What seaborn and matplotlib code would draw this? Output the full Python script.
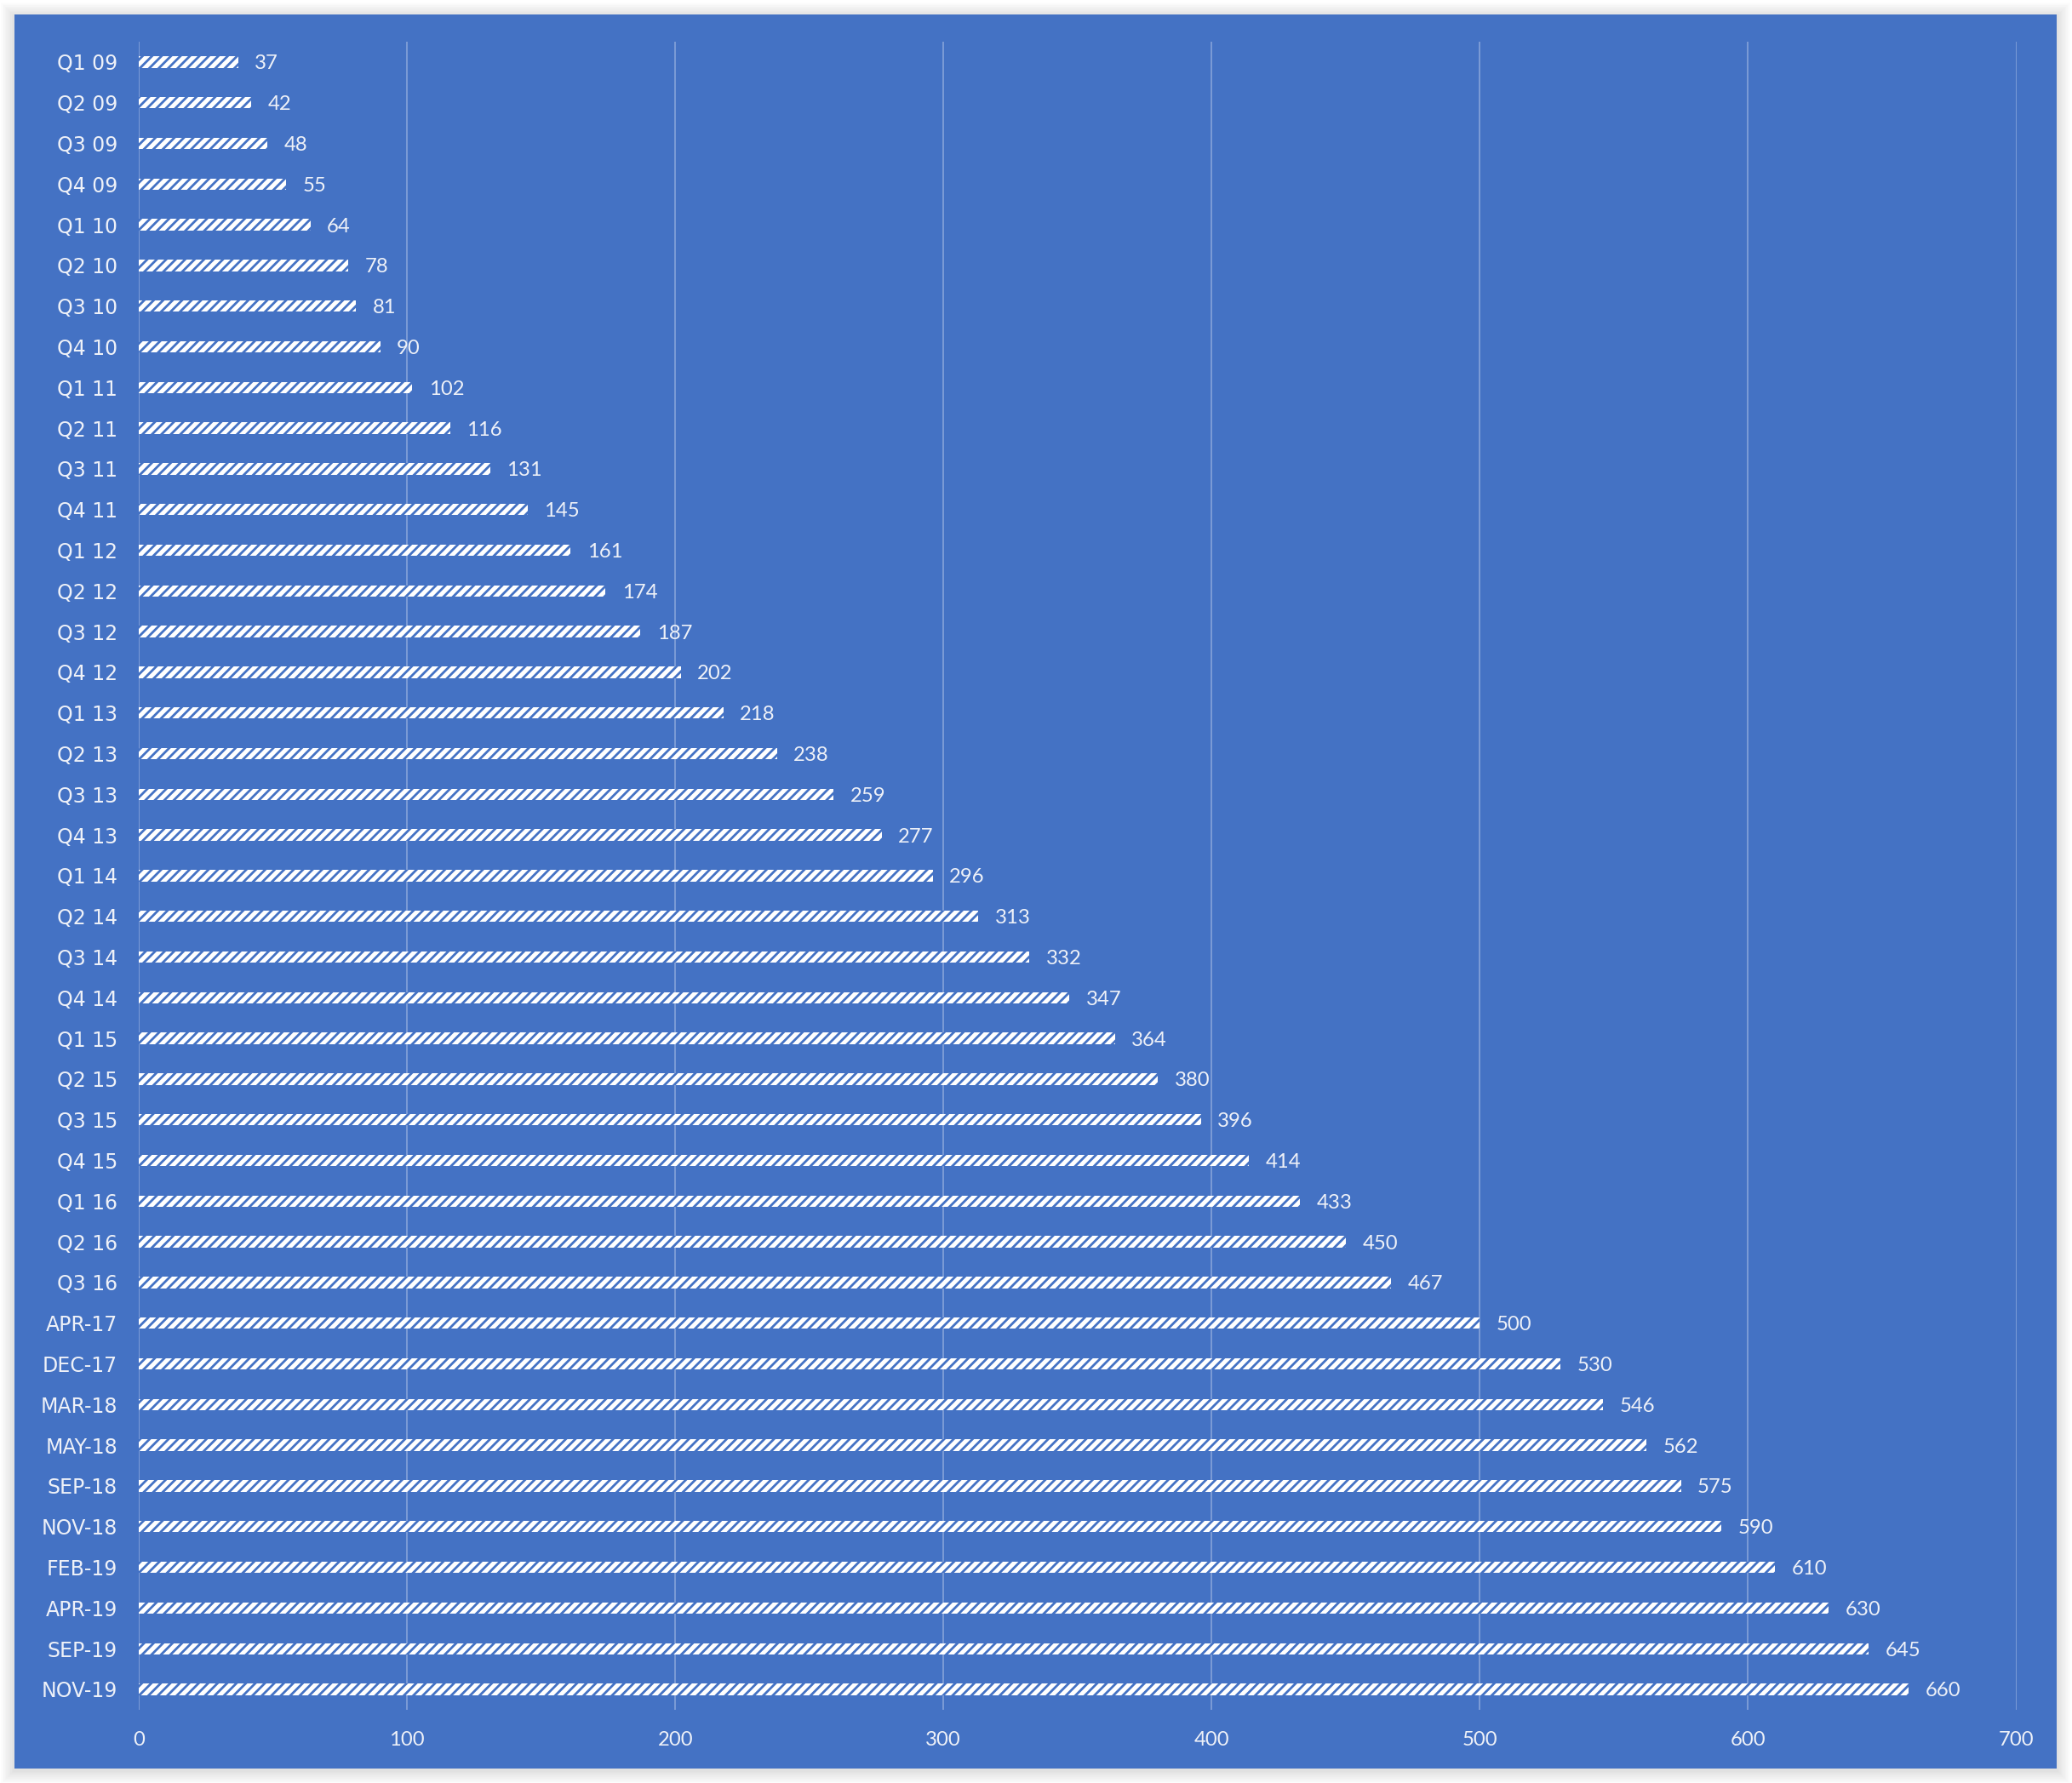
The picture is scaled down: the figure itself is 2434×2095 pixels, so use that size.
"""Horizontal hatched bar chart of cumulative values per period."""

import matplotlib.pyplot as plt
import pandas as pd
import seaborn as sns
from matplotlib.patches import Rectangle

plt.switch_backend("Agg")

BLUE = "#4472C4"
TEXT = "#EEF1F8"

periods = [
    "Q1 09", "Q2 09", "Q3 09", "Q4 09",
    "Q1 10", "Q2 10", "Q3 10", "Q4 10",
    "Q1 11", "Q2 11", "Q3 11", "Q4 11",
    "Q1 12", "Q2 12", "Q3 12", "Q4 12",
    "Q1 13", "Q2 13", "Q3 13", "Q4 13",
    "Q1 14", "Q2 14", "Q3 14", "Q4 14",
    "Q1 15", "Q2 15", "Q3 15", "Q4 15",
    "Q1 16", "Q2 16", "Q3 16",
    "APR-17", "DEC-17", "MAR-18", "MAY-18", "SEP-18", "NOV-18",
    "FEB-19", "APR-19", "SEP-19", "NOV-19",
]
values = [
    37, 42, 48, 55,
    64, 78, 81, 90,
    102, 116, 131, 145,
    161, 174, 187, 202,
    218, 238, 259, 277,
    296, 313, 332, 347,
    364, 380, 396, 414,
    433, 450, 467,
    500, 530, 546, 562, 575, 590,
    610, 630, 645, 660,
]
x_ticks = [0, 100, 200, 300, 400, 500, 600, 700]

sns.set_theme(style="white")
plt.rcParams["font.family"] = ["Lato", "DejaVu Sans"]
plt.rcParams["hatch.linewidth"] = 1.0

fig = plt.figure(figsize=(12.17, 10.475), dpi=200)
fig.patch.set_facecolor("white")

# soft shadow behind the blue panel
panel = (0.007, 0.0081, 0.9856, 0.9838)
for i in range(10):
    dx = (i + 1) * 1.6 / 2434
    dy = (i + 1) * 1.6 / 2095
    fig.patches.append(
        Rectangle(
            (panel[0] - dx, panel[1] - dy - 2 / 2095),
            panel[2] + 2 * dx,
            panel[3] + 2 * dy,
            transform=fig.transFigure,
            facecolor="black",
            alpha=0.012,
            linewidth=0,
            zorder=-3,
        )
    )
fig.patches.append(
    Rectangle(
        panel[:2], panel[2], panel[3],
        transform=fig.transFigure, facecolor=BLUE, linewidth=0, zorder=-2,
    )
)

ax = fig.add_axes([0.067, 0.0411, 0.9061, 0.9355])
ax.set_facecolor("none")
ax.set_axisbelow(True)

df = pd.DataFrame({"period": periods, "value": values})
sns.barplot(
    data=df,
    x="value",
    y="period",
    orient="h",
    width=0.28,
    color="white",
    saturation=1,
    edgecolor=BLUE,
    linewidth=0,
    hatch="//////",
    errorbar=None,
    ax=ax,
)

labels = ax.bar_label(ax.containers[0], fmt="%g", padding=7, color=TEXT, fontsize=8.6)
for text in labels:
    text.set_verticalalignment("center_baseline")

ax.set_xlim(0, 700)
ax.set_xticks(x_ticks)
ax.set_yticks(range(len(periods)), periods, family="DejaVu Sans")
ax.set_ylim(len(periods) - 0.5, -0.5)
ax.grid(axis="x", color="white", alpha=0.35, linewidth=0.6)
ax.grid(axis="y", visible=False)
for spine in ax.spines.values():
    spine.set_visible(False)
ax.set_xlabel("")
ax.set_ylabel("")
ax.tick_params(axis="x", length=0, pad=9, labelsize=8.6, labelcolor=TEXT)
ax.tick_params(axis="y", length=0, pad=9, labelsize=8.5, labelcolor=TEXT)

fig.savefig("out.png", dpi=200, facecolor="white")
